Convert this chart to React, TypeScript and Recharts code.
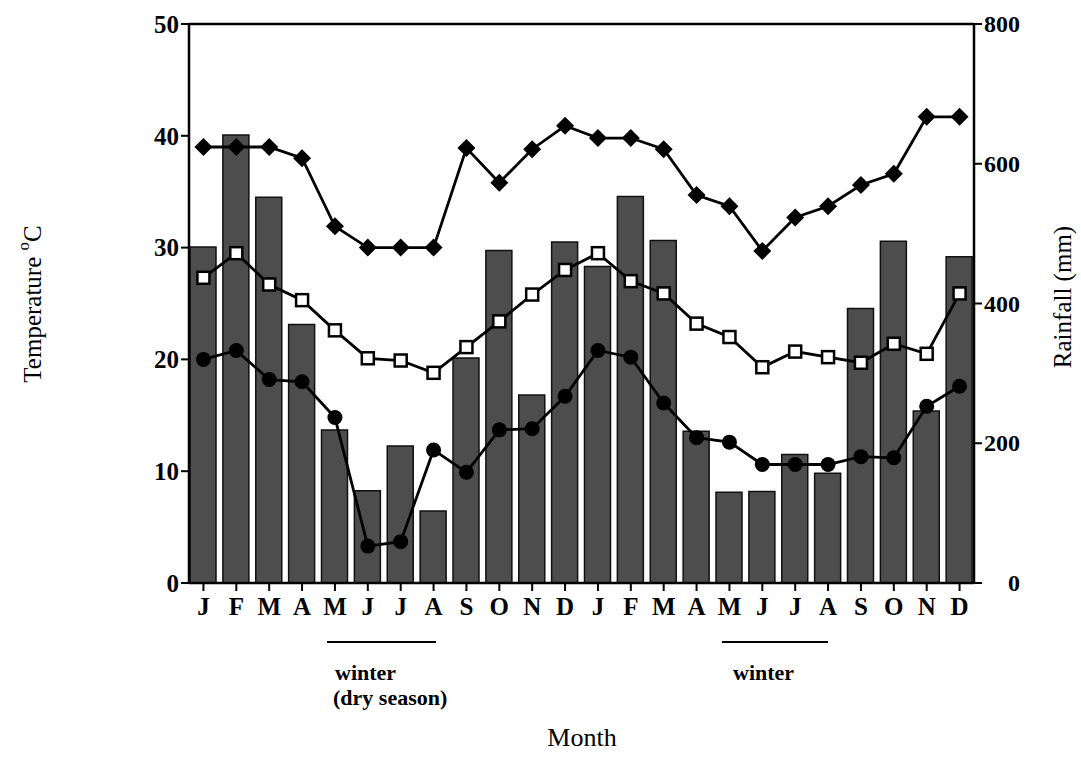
import React from 'react';
import { ComposedChart, Bar, Line, XAxis, YAxis, ReferenceLine } from 'recharts';

// Two years, Jan..Dec twice
const months = ['J', 'F', 'M', 'A', 'M', 'J', 'J', 'A', 'S', 'O', 'N', 'D', 'J', 'F', 'M', 'A', 'M', 'J', 'J', 'A', 'S', 'O', 'N', 'D'];

// Rainfall (mm), right axis
const rainfall = [481, 641, 552, 370, 219, 132, 196, 103, 322, 476, 269, 488, 453, 553, 490, 217, 130, 131, 184, 157, 393, 489, 246, 467];

// Temperatures (°C), left axis
const maxTemp = [39.0, 39.0, 39.0, 38.0, 31.9, 30.0, 30.0, 30.0, 38.9, 35.8, 38.8, 40.9, 39.8, 39.8, 38.8, 34.7, 33.7, 29.7, 32.7, 33.7, 35.6, 36.6, 41.7, 41.7];
const meanTemp = [27.3, 29.5, 26.7, 25.3, 22.6, 20.1, 19.9, 18.8, 21.1, 23.4, 25.8, 28.0, 29.5, 27.0, 25.9, 23.2, 22.0, 19.3, 20.7, 20.2, 19.7, 21.4, 20.5, 25.9];
const minTemp = [20.0, 20.8, 18.2, 18.0, 14.8, 3.3, 3.7, 11.9, 9.9, 13.7, 13.8, 16.7, 20.8, 20.2, 16.1, 13.0, 12.6, 10.6, 10.6, 10.6, 11.3, 11.2, 15.8, 17.6];

const tempTicks = [0, 10, 20, 30, 40, 50];
const rainTicks = [0, 200, 400, 600, 800];

const chartData = months.map((m, i) => ({
  key: `${m}${i}`,
  month: m,
  rain: rainfall[i],
  max: maxTemp[i],
  mean: meanTemp[i],
  min: minTemp[i],
}));

const serif = '"Liberation Serif", "DejaVu Serif", serif';

const Diamond = (props: any) => {
  const { cx, cy, index } = props;
  if (cx == null || cy == null) return <g key={`dm-${index}`} />;
  return <path key={`dm-${index}`} d={`M${cx},${cy - 9} L${cx + 9},${cy} L${cx},${cy + 9} L${cx - 9},${cy} Z`} fill="#000" />;
};

const Square = (props: any) => {
  const { cx, cy, index } = props;
  if (cx == null || cy == null) return <g key={`sq-${index}`} />;
  return <rect key={`sq-${index}`} x={cx - 6} y={cy - 6} width={12} height={12} fill="#fff" stroke="#000" strokeWidth={2.5} />;
};

const Dot = (props: any) => {
  const { cx, cy, index } = props;
  if (cx == null || cy == null) return <g key={`ci-${index}`} />;
  return <circle key={`ci-${index}`} cx={cx} cy={cy} r={7.5} fill="#000" />;
};

// right axis labels are right-aligned in the original
const RainTick = (props: any) => {
  const { x, y, payload } = props;
  return (
    <text x={x + 36} y={y} dy={8} textAnchor="end" fontFamily={serif} fontSize={24} fontWeight="bold" fill="#000">
      {payload.value}
    </text>
  );
};

const App: React.FC = () => {
  return (
    <div style={{ position: 'absolute', left: 0, top: 0, width: 1081, height: 772, background: '#fff' }}>
      <ComposedChart
        width={1081}
        height={772}
        data={chartData}
        margin={{ top: 24, right: 47, left: 129, bottom: 159 }}
      >
        <XAxis
          dataKey="key"
          interval={0}
          padding={{ left: -2, right: -2 }}
          tickFormatter={(v, i) => months[i]}
          tickSize={8}
          tickMargin={6}
          tickLine={{ stroke: '#000', strokeWidth: 2 }}
          axisLine={{ stroke: '#000', strokeWidth: 2.5 }}
          tick={{ fill: '#000', fontSize: 25, fontWeight: 'bold', fontFamily: serif }}
          height={30}
        />
        <YAxis
          yAxisId="temp"
          domain={[0, 50]}
          ticks={tempTicks}
          width={60}
          tickSize={8}
          tickLine={{ stroke: '#000', strokeWidth: 2 }}
          axisLine={{ stroke: '#000', strokeWidth: 2.5 }}
          tick={{ fill: '#000', fontSize: 25, fontWeight: 'bold', fontFamily: serif }}
        />
        <YAxis
          yAxisId="rain"
          orientation="right"
          domain={[0, 800]}
          ticks={rainTicks}
          width={60}
          tickSize={8}
          tickLine={{ stroke: '#000', strokeWidth: 2 }}
          axisLine={{ stroke: '#000', strokeWidth: 2.5 }}
          tick={<RainTick />}
        />
        <ReferenceLine yAxisId="temp" y={50} stroke="#000" strokeWidth={2.5} />
        <Bar
          yAxisId="rain"
          dataKey="rain"
          barSize={26}
          fill="#4d4d4d"
          stroke="#111"
          strokeWidth={1.5}
          isAnimationActive={false}
        />
        <Line
          yAxisId="temp"
          dataKey="min"
          stroke="#000"
          strokeWidth={2.8}
          dot={<Dot />}
          activeDot={false}
          isAnimationActive={false}
        />
        <Line
          yAxisId="temp"
          dataKey="mean"
          stroke="#000"
          strokeWidth={2.8}
          dot={<Square />}
          activeDot={false}
          isAnimationActive={false}
        />
        <Line
          yAxisId="temp"
          dataKey="max"
          stroke="#000"
          strokeWidth={2.8}
          dot={<Diamond />}
          activeDot={false}
          isAnimationActive={false}
        />
      </ComposedChart>

      {/* axis titles and season notes */}
      <svg width={1081} height={772} style={{ position: 'absolute', left: 0, top: 0, pointerEvents: 'none' }}>
        <text
          transform="translate(32,304) rotate(-90)"
          textAnchor="middle"
          dominantBaseline="central"
          fontFamily={serif}
          fontSize={25}
          fill="#000"
        >
          Temperature <tspan fontSize={17} dy={-9}>o</tspan><tspan dy={9}>C</tspan>
        </text>
        <text
          transform="translate(1062,297) rotate(-90)"
          textAnchor="middle"
          dominantBaseline="central"
          fontFamily={serif}
          fontSize={25}
          fill="#000"
        >
          Rainfall (mm)
        </text>
        <line x1={327} y1={642} x2={436} y2={642} stroke="#000" strokeWidth={2} />
        <text x={335} y={680} fontFamily={serif} fontSize={22} fontWeight="bold" fill="#000">winter</text>
        <text x={333} y={705} fontFamily={serif} fontSize={22} fontWeight="bold" fill="#000">(dry season)</text>
        <line x1={722} y1={642} x2={828} y2={642} stroke="#000" strokeWidth={2} />
        <text x={733} y={680} fontFamily={serif} fontSize={22} fontWeight="bold" fill="#000">winter</text>
        <text x={582} y={746} textAnchor="middle" fontFamily={serif} fontSize={26} fill="#000">Month</text>
      </svg>
    </div>
  );
};

export default App;
